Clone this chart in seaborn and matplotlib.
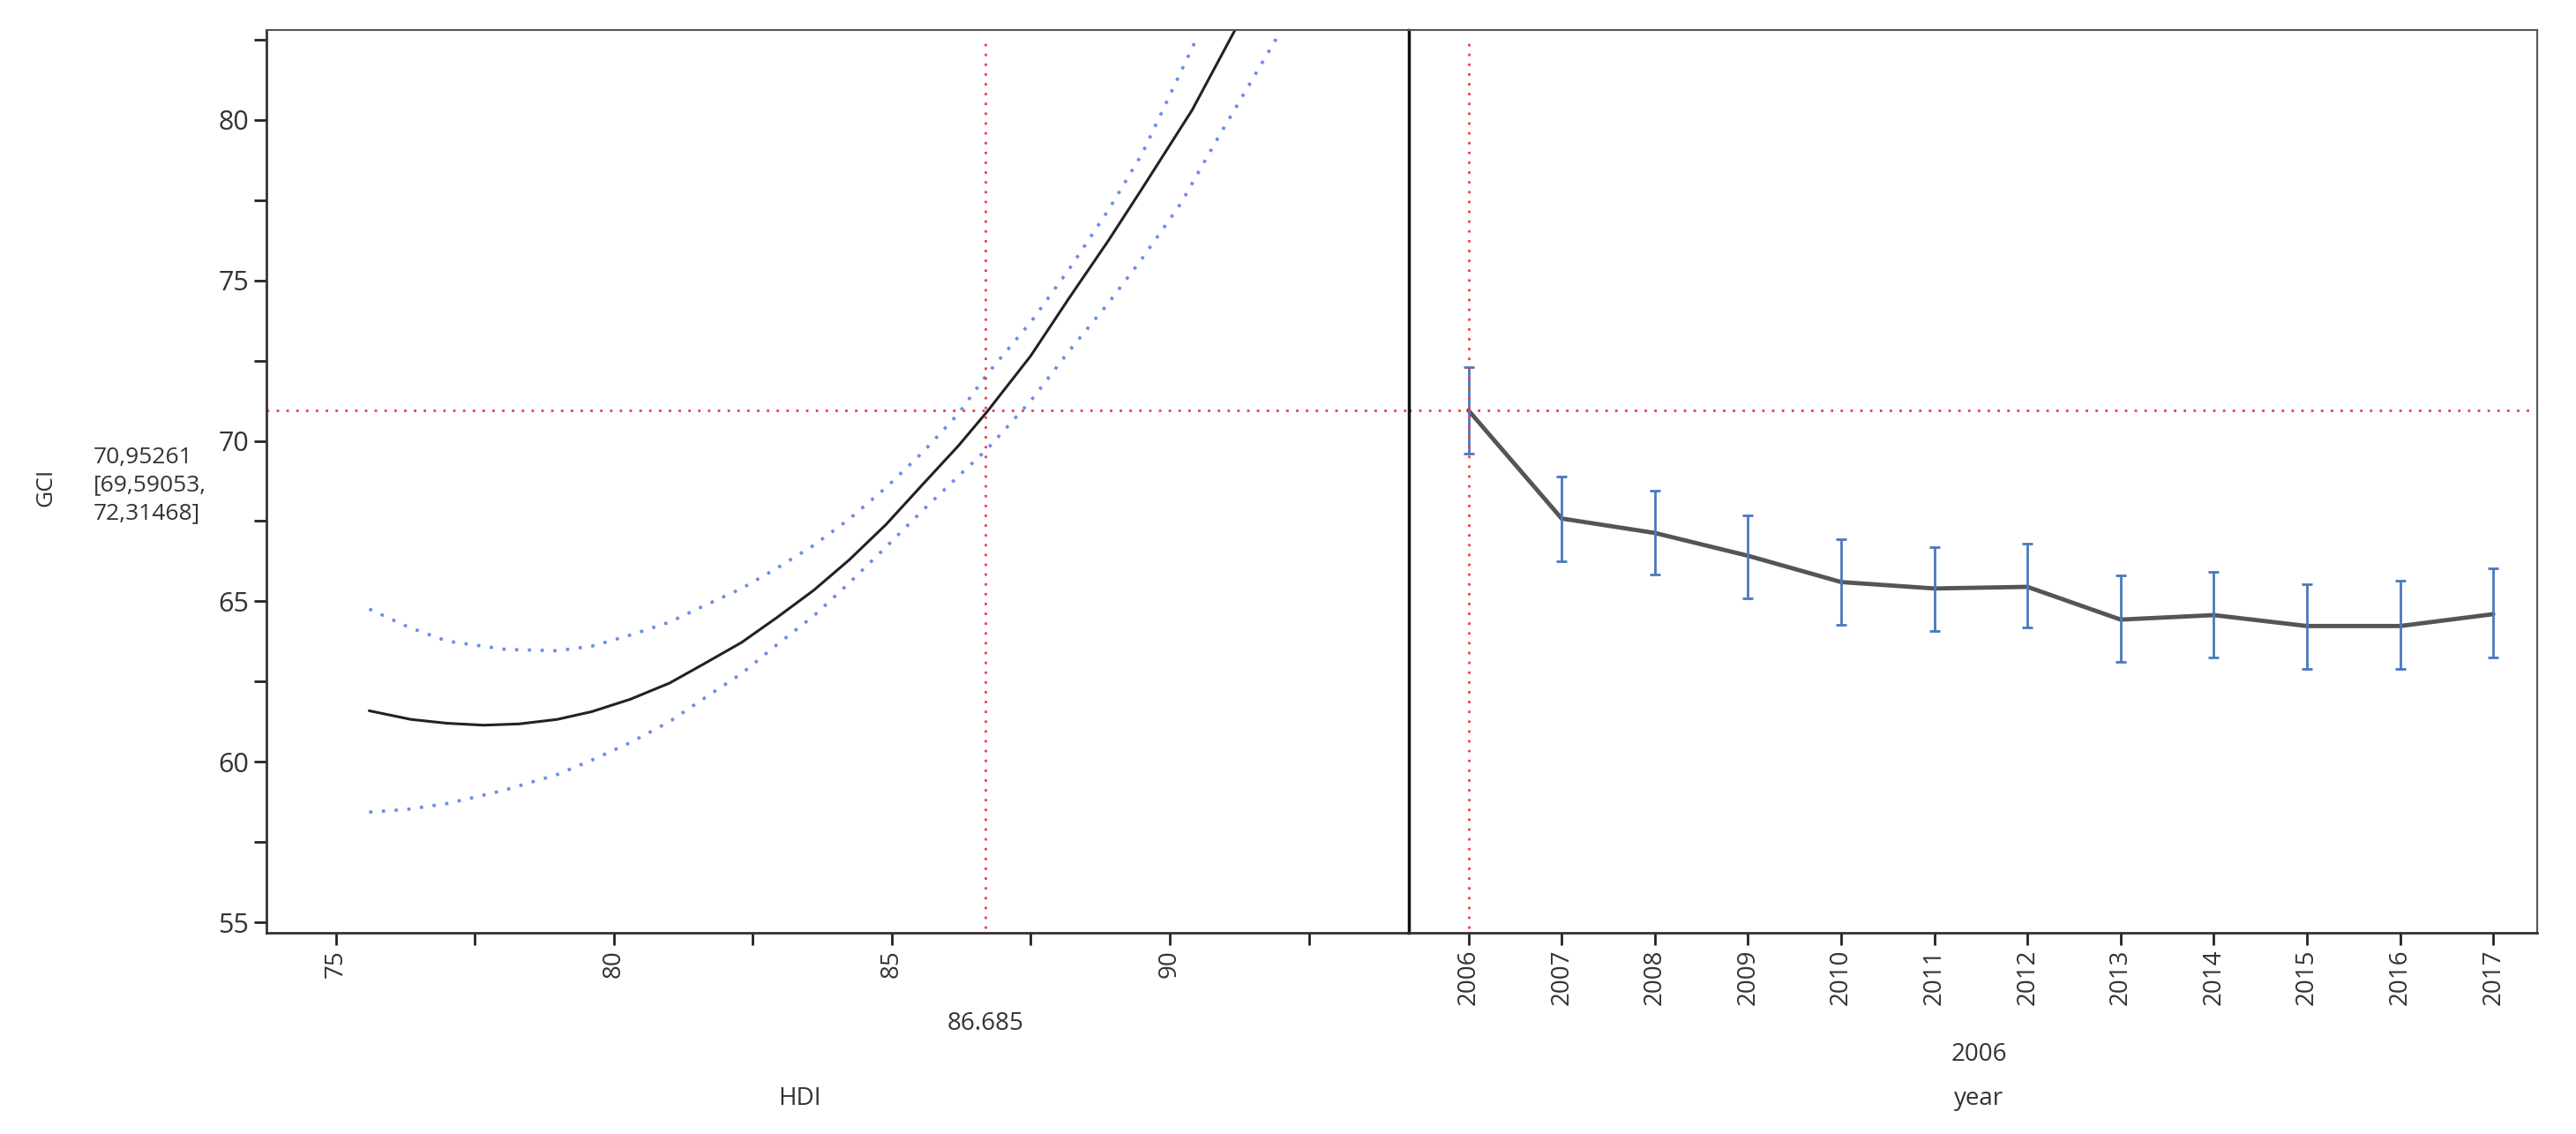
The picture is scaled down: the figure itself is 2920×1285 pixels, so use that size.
import matplotlib
matplotlib.use("Agg")
import matplotlib.pyplot as plt
import seaborn as sns
import pandas as pd

sns.set_theme(style="white")
plt.rcParams['font.family'] = ['Open Sans', 'DejaVu Sans']

# Left panel: HDI profile
hdi_x = [75.6, 76.35, 77.0, 77.66, 78.3, 78.98, 79.6, 80.3, 81.0, 81.61, 82.3, 82.93, 83.6, 84.24, 84.9, 85.56, 86.2, 86.72, 87.5, 88.19, 88.9, 89.51, 90.4, 91.22]
gci_fit = [61.59, 61.32, 61.2, 61.14, 61.18, 61.32, 61.56, 61.95, 62.45, 63.04, 63.72, 64.49, 65.35, 66.3, 67.4, 68.65, 69.85, 70.92, 72.65, 74.45, 76.25, 77.88, 80.3, 82.95]
ci_x_up = [75.6, 76.3, 77.0, 78.06, 78.98, 79.6, 80.3, 81.0, 81.61, 82.3, 82.93, 83.6, 84.24, 84.9, 85.56, 86.2, 86.72, 87.5, 88.19, 88.9, 89.51, 90.5]
ci_up = [64.76, 64.2, 63.76, 63.5, 63.46, 63.6, 63.95, 64.35, 64.85, 65.4, 66.03, 66.75, 67.57, 68.55, 69.65, 70.85, 72.09, 73.7, 75.35, 77.2, 78.97, 82.6]
ci_x_lo = [75.6, 76.3, 77.01, 78.0, 78.98, 79.6, 80.3, 81.0, 81.6, 82.3, 82.9, 83.6, 84.24, 84.9, 85.56, 86.2, 86.72, 87.5, 88.19, 88.9, 89.51, 90.2, 90.82, 91.94]
ci_lo = [58.43, 58.52, 58.70, 59.1, 59.6, 60.05, 60.6, 61.25, 61.95, 62.75, 63.6, 64.55, 65.58, 66.7, 67.84, 68.9, 69.75, 71.25, 72.8, 74.3, 75.7, 77.4, 79.3, 82.6]

# Right panel: year profile
years = [2006, 2007, 2008, 2009, 2010, 2011, 2012, 2013, 2014, 2015, 2016, 2017]
year_mean = [70.95, 67.58, 67.13, 66.42, 65.6, 65.4, 65.45, 64.43, 64.57, 64.23, 64.23, 64.6]
year_hi = [72.31, 68.9, 68.46, 67.69, 66.94, 66.7, 66.8, 65.8, 65.93, 65.54, 65.64, 66.03]
year_lo = [69.59, 66.25, 65.84, 65.1, 64.27, 64.08, 64.19, 63.11, 63.26, 62.9, 62.9, 63.26]

cur_hdi = 86.685
cur_gci = 70.95261

fig = plt.figure(figsize=(29.2, 12.85), dpi=100)
fig.patch.set_facecolor('white')
ax1 = fig.add_axes([0.1034, 0.1774, 0.4435, 0.7961])
ax2 = fig.add_axes([0.5469, 0.1774, 0.438, 0.7961], sharey=ax1)

red = '#e8404a'
blue = '#6a8ce8'
dark = '#222222'

sns.lineplot(x=hdi_x, y=gci_fit, ax=ax1, color=dark, lw=2.2, sort=False)
sns.lineplot(x=ci_x_up, y=ci_up, ax=ax1, color=blue, lw=2.6, ls=(0, (1, 3)), sort=False)
sns.lineplot(x=ci_x_lo, y=ci_lo, ax=ax1, color=blue, lw=2.6, ls=(0, (1, 3)), sort=False)
ax1.axhline(cur_gci, color=red, lw=2, ls=(0, (1, 3)))
ax1.plot([cur_hdi, cur_hdi], [54.8, 82.5], color=red, lw=2, ls=(0, (1, 3)))
ax1.set_xlim(73.75, 94.3)
ax1.set_ylim(54.67, 82.8)
ax1.set_xticks([75, 77.5, 80, 82.5, 85, 87.5, 90, 92.5])
ax1.set_xticklabels(['75', '', '80', '', '85', '', '90', ''], rotation=90, fontsize=20, color='#333333')
ax1.set_yticks([55, 57.5, 60, 62.5, 65, 67.5, 70, 72.5, 75, 77.5, 80, 82.5])
ax1.set_yticklabels(['55', '', '60', '', '65', '', '70', '', '75', '', '80', ''], fontsize=22, color='#333333')
ax1.tick_params(axis='both', direction='out', length=10, width=2, color='#222222', left=True, bottom=True, pad=4)
for s in ['top', 'right']:
    ax1.spines[s].set_visible(False)
for s in ['left', 'bottom']:
    ax1.spines[s].set_color('#333333'); ax1.spines[s].set_linewidth(2)
ax1.spines['top'].set_visible(True); ax1.spines['top'].set_color('#555555'); ax1.spines['top'].set_linewidth(1.5)

df = pd.DataFrame({'year': list(range(len(years))), 'gci': year_mean})
sns.lineplot(data=df, x='year', y='gci', ax=ax2, color='#555555', lw=3.5)
ax2.errorbar(range(len(years)), year_mean,
             yerr=[[m - l for m, l in zip(year_mean, year_lo)], [h - m for m, h in zip(year_mean, year_hi)]],
             fmt='none', ecolor='#4a78c0', elinewidth=2, capsize=4, capthick=2)
ax2.axhline(cur_gci, color=red, lw=2, ls=(0, (1, 3)))
ax2.plot([0, 0], [54.8, 82.5], color=red, lw=2, ls=(0, (1, 3)))
ax2.set_xlim(-0.64, 11.47)
ax2.set_xticks(range(len(years)))
ax2.set_xticklabels([str(y) for y in years], rotation=90, fontsize=20, color='#333333')
ax2.tick_params(axis='x', direction='out', length=10, width=2, color='#222222', bottom=True)
ax2.tick_params(axis='y', left=False, labelleft=False)
ax2.set_xlabel(''); ax2.set_ylabel('')
ax1.set_xlabel(''); ax1.set_ylabel('')
ax2.spines['left'].set_color('#111111'); ax2.spines['left'].set_linewidth(2.5)
ax2.spines['bottom'].set_color('#333333'); ax2.spines['bottom'].set_linewidth(2)
for s in ['top', 'right']:
    ax2.spines[s].set_color('#555555'); ax2.spines[s].set_linewidth(1.5)

# Texts
fig.text(52 / 2920, 1 - 552 / 1285, 'GCI', rotation=90, fontsize=19, color='#333333', ha='center', va='center')
fig.text(106 / 2920, 1 - 550 / 1285, '70,95261\n[69,59053,\n72,31468]', fontsize=19, color='#333333',
         ha='left', va='center', linespacing=1.35)
fig.text(1117 / 2920, 1 - 1160 / 1285, '86.685', fontsize=20, color='#333333', ha='center', va='center')
fig.text(907 / 2920, 1 - 1245 / 1285, 'HDI', fontsize=20, color='#333333', ha='center', va='center')
fig.text(2243 / 2920, 1 - 1195 / 1285, '2006', fontsize=20, color='#333333', ha='center', va='center')
fig.text(2243 / 2920, 1 - 1245 / 1285, 'year', fontsize=20, color='#333333', ha='center', va='center')

fig.savefig('out.png', dpi=100, facecolor='white')
